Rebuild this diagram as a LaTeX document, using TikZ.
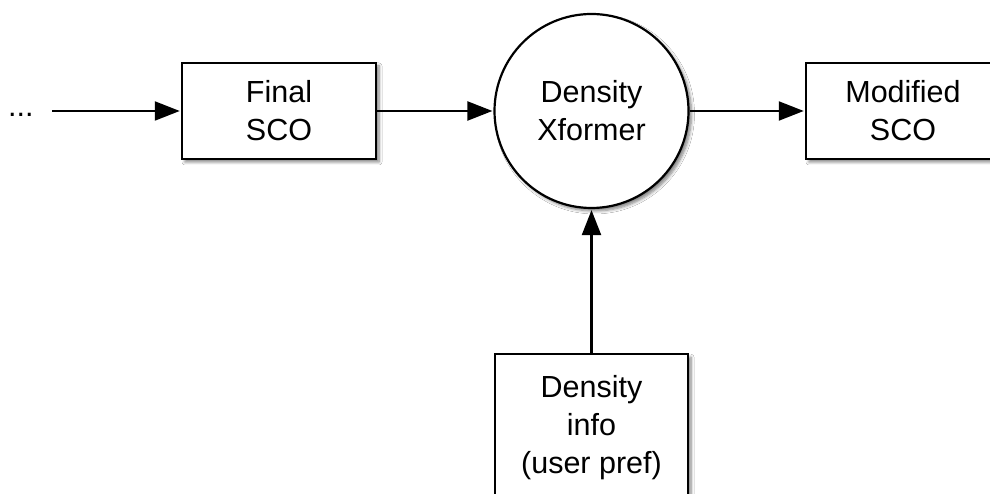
\documentclass[tikz,border=0pt]{standalone}
\usepackage{fontspec}
\setmainfont{Liberation Sans}
\usetikzlibrary{arrows.meta,shadows.blur}
\begin{document}
\begin{tikzpicture}[x=1pt,y=1pt,
  lbl/.style={font=\fontsize{30.5}{38}\selectfont, align=center, text=black},
  shad/.style={blur shadow={shadow xshift=3pt, shadow yshift=-3pt, shadow blur steps=6, shadow opacity=50, shadow blur radius=3pt}},
  blockbox/.style={draw=black, line width=2.5pt, fill=white, shad, rectangle,
                   minimum width=194, minimum height=96, inner sep=0pt, lbl},
  procnode/.style={draw=black, line width=2.2pt, fill=white, shad, circle,
                   minimum size=194, inner sep=0pt, lbl},
  flow/.style={line width=2.2pt, -{Triangle[length=25pt,width=19pt]}, shorten >=1pt}
]
\clip (0,0) rectangle (990,494);
\fill[white] (0,0) rectangle (990,494);

% main chain
\node[lbl, anchor=base west, inner sep=0pt] (dots) at (8,377) {...};
\coordinate (feed) at (52,383);
\node[blockbox] (final) at (279,383) {Final\\SCO};
\node[procnode] (xf) at (591.5,383) {Density\\Xformer};
\node[blockbox] (mod) at (903,383) {Modified\\SCO};

% preference input below the transformer
\node[blockbox, anchor=north, minimum width=193, minimum height=190] (info) at (591.5,141) {};
\node[lbl, inner sep=0pt] (infotext) at (591.5,66) {Density\\info\\(user pref)};

% connectors
\draw[flow] (feed) -- (final.west);
\draw[flow] (final.east) -- (xf.west);
\draw[flow] (xf.east) -- (mod.west);
\draw[flow] (info.north) -- (xf.south);
\end{tikzpicture}
\end{document}
